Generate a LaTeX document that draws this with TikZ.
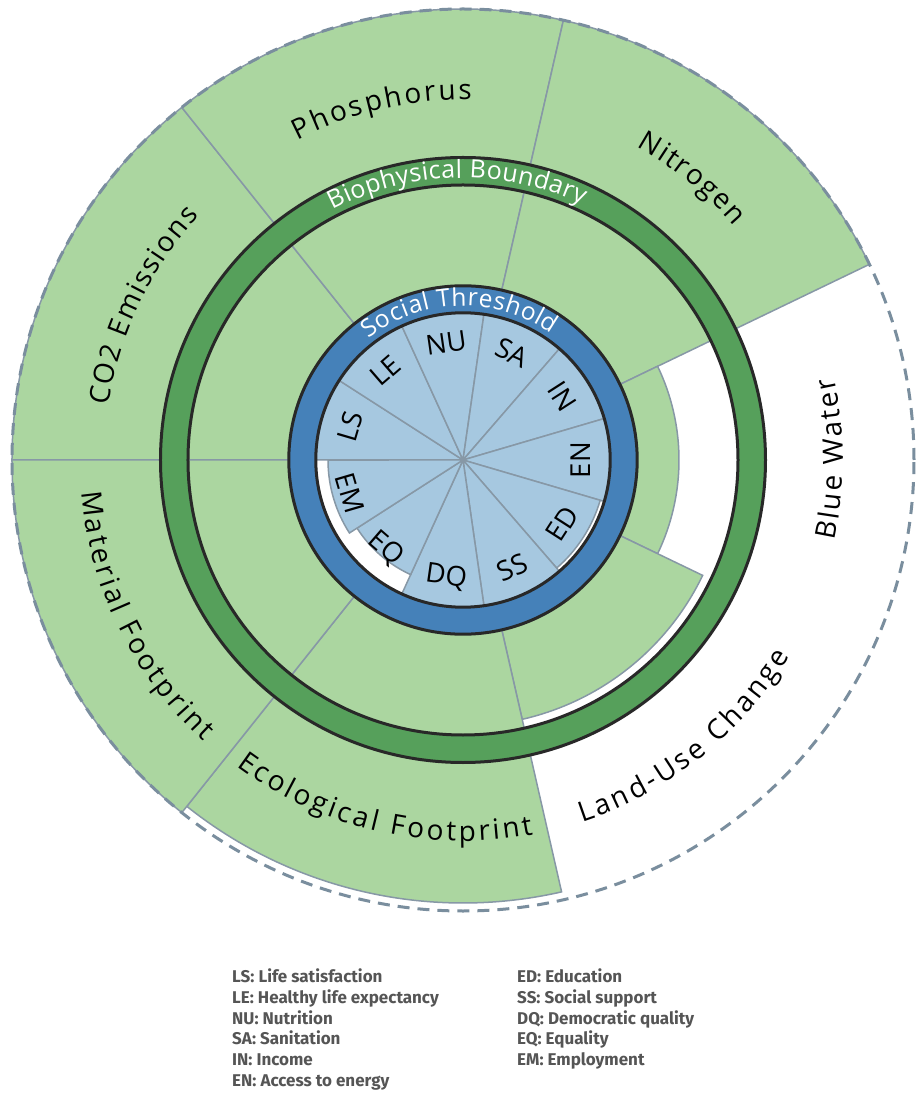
\documentclass[tikz,border=0pt]{standalone}
\usepackage{fontspec}
\setmainfont{Open Sans}
\newfontfamily\keyfont{Fira Sans}
\usetikzlibrary{decorations.text}

\definecolor{leafgreen}{RGB}{171,214,160}
\definecolor{ringgreen}{RGB}{86,160,91}
\definecolor{ringblue}{RGB}{69,129,185}
\definecolor{wedgeblue}{RGB}{166,200,224}
\definecolor{edgegray}{RGB}{135,152,166}
\definecolor{dashgray}{RGB}{122,142,158}
\definecolor{rimblack}{RGB}{40,40,40}
\definecolor{keygray}{RGB}{85,85,85}

\tikzset{
  arctext/.style n args={3}{decorate, decoration={text along path, text align={fit to path}, text color=#1, text={|\fontsize{#2}{#2}\selectfont|#3}}}
}

\begin{document}
\begin{tikzpicture}[x=1pt,y=1pt]
  \tikzstyle{sector}=[fill=leafgreen, draw=edgegray, line width=1.5pt]
  \tikzstyle{wedge}=[fill=wedgeblue, draw=edgegray, line width=1.5pt]
  \tikzstyle{rim}=[draw=rimblack, line width=3pt]
  \tikzstyle{code}=[font=\fontsize{27.5}{27.5}\selectfont, inner sep=0pt]
  \tikzstyle{keyline}=[anchor=base west, inner sep=0pt, text=keygray, font=\keyfont\fontsize{17}{20}\selectfont\bfseries]
  \fill[white] (-463,-634) rectangle (457,460);
  \useasboundingbox (-463,-634) rectangle (457,460);
  \foreach \a/\r in {128.57/451pt, 77.14/451pt, 25.71/451pt, -25.71/216pt, -77.14/266pt, -128.57/443pt, -180/451pt}
    \path[sector] (0,0) -- (\a:\r) arc[start angle=\a, delta angle=51.43, radius=\r] -- cycle;
  \draw[dashgray, line width=3pt, dash pattern=on 12pt off 8pt] (0,0) circle[radius=451pt];
  \fill[ringgreen, even odd rule] (0,0) circle[radius=302.5pt] circle[radius=275pt];
  \draw[rim] (0,0) circle[radius=302.5pt] circle[radius=275pt];
  \fill[white] (0,0) circle[radius=175pt];
  \foreach \lab/\len [count=\i from 0] in {LS/148pt, LE/148pt, NU/148pt, SA/148pt, IN/148pt, EN/148pt, ED/143pt, SS/148pt, DQ/148pt, EQ/126pt, EM/135pt} {
    \pgfmathsetmacro\ang{163.636-32.727*\i}
    \pgfmathsetmacro\rot{\ang>0.5 ? \ang-90 : \ang+90}
    \path[wedge] (0,0) -- ({\ang-16.364}:\len) arc[start angle=\ang-16.364, end angle=\ang+16.364, radius=\len] -- cycle;
    \node[code, rotate=\rot] (\lab) at (\ang:118pt) {\lab};
  }
  \fill[ringblue, even odd rule] (0,0) circle[radius=174.2pt] circle[radius=147.2pt];
  \draw[rim] (0,0) circle[radius=174.2pt] circle[radius=147.2pt];
  \path[arctext={white}{24.5}{Social Threshold}] (127.8:154pt) arc[start angle=127.8, end angle=55, radius=154pt];
  \path[arctext={white}{25}{Biophysical Boundary}] (117.6:282pt) arc[start angle=117.6, end angle=65, radius=282pt];
  \path[arctext={black}{28}{CO2 Emissions}] (171.3:359pt) arc[start angle=171.3, end angle=137.2, radius=359pt];
  \path[arctext={black}{28}{Phosphorus}] (117.3:360pt) arc[start angle=117.3, end angle=88.6, radius=360pt];
  \path[arctext={black}{28}{Nitrogen}] (61:358pt) arc[start angle=61, end angle=40.8, radius=358pt];
  \path[arctext={black}{28}{Blue Water}] (-12.2:380pt) arc[start angle=-12.2, end angle=12.5, radius=380pt];
  \path[arctext={black}{28}{Land-Use Change}] (-71.8:381pt) arc[start angle=-71.8, end angle=-31, radius=381pt];
  \path[arctext={black}{28}{Ecological Footprint}] (-126.5:381pt) arc[start angle=-126.5, end angle=-79.4, radius=381pt];
  \path[arctext={black}{28}{Material Footprint}] (-175.2:383pt) arc[start angle=-175.2, end angle=-132.7, radius=383pt];
  \foreach \txt [count=\i from 0] in {LS: Life satisfaction, LE: Healthy life expectancy, NU: Nutrition, SA: Sanitation, IN: Income, EN: Access to energy}
    \node[keyline] (keyA\i) at (-231,{-522.5-20.8*\i}) {\txt};
  \foreach \txt [count=\i from 0] in {ED: Education, SS: Social support, DQ: Democratic quality, EQ: Equality, EM: Employment}
    \node[keyline] (keyB\i) at (54,{-522.5-20.8*\i}) {\txt};
\end{tikzpicture}
\end{document}
